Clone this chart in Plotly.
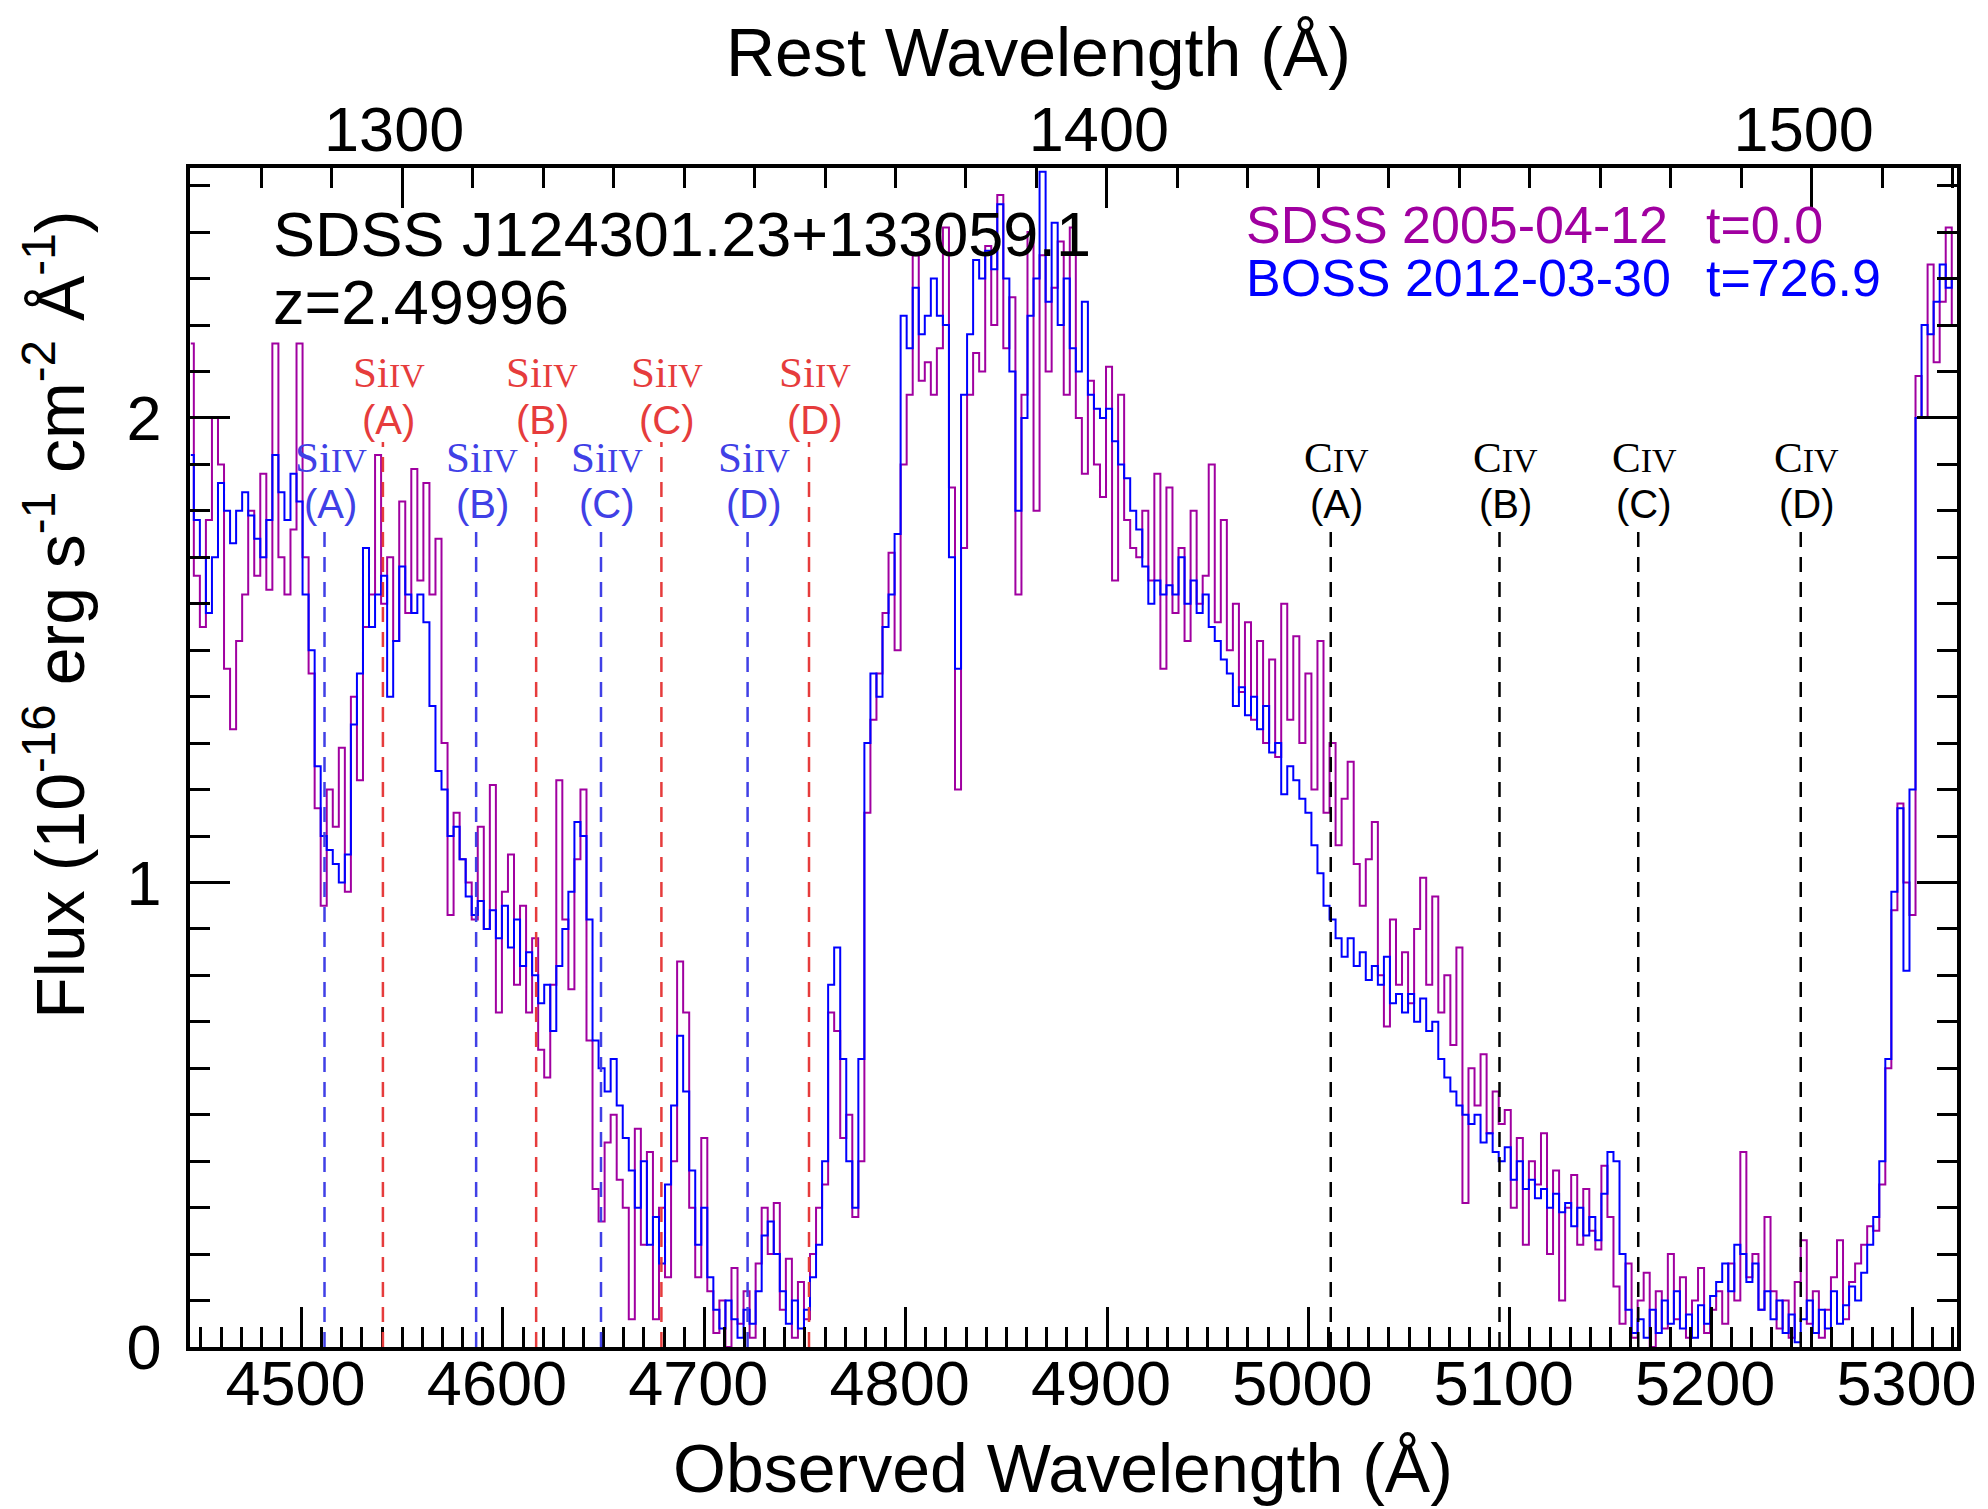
import numpy as np
import plotly.graph_objects as go

# ---------------- data ----------------
z_qso = 2.49996
wave_start = 4445.0   # first pixel centre (observed Angstrom)
wave_step = 3.0       # pixel width (observed Angstrom)

flux_sdss = [
    # 4445-4499
    2.16, 1.66, 1.55, 1.78, 2.00, 1.90, 1.46, 1.33, 1.52, 1.62,
    1.80, 1.66, 1.88, 1.63, 2.16, 1.70, 1.62, 1.76, 2.16,
    # 4502-4538
    1.70, 1.45, 1.16, 0.95, 1.20, 1.12, 1.29, 0.98, 1.40, 1.22, 1.55, 1.62, 1.92,
    # 4541-4568
    1.60, 1.70, 1.52, 1.82, 1.58, 1.89, 1.65, 1.86, 1.62, 1.74,
    # 4571-4598
    1.30, 0.93, 1.15, 1.05, 1.00, 0.92, 1.12, 0.90, 1.21, 0.72,
    # 4601-4640
    0.98, 1.06, 0.78, 0.95, 0.72, 0.88, 0.64, 0.58, 0.78, 1.22, 0.92, 0.77, 1.05, 1.20,
    # 4643-4700
    0.66, 0.34, 0.27, 0.44, 0.50, 0.36, 0.30, 0.06, 0.47, 0.22,
    0.42, 0.06, 0.30, 0.15, 0.40, 0.83, 0.72, 0.30, 0.15, 0.45,
    # 4703-4769
    0.12, 0.03, 0.10, 0.00, 0.17, 0.05, 0.12, 0.02, 0.18, 0.30,
    0.20, 0.31, 0.08, 0.19, 0.02, 0.14, 0.06, 0.20, 0.30, 0.35,
    0.72, 0.68, 0.45,
    # 4772-4799
    0.50, 0.28, 0.40, 1.15, 1.35, 1.45, 1.58, 1.71, 1.50, 1.90,
    # 4802-4931
    2.05, 2.35, 2.08, 2.12, 2.05, 2.15, 2.41, 1.85, 1.20, 1.72,
    2.05, 2.14, 2.10, 2.37, 2.20, 2.48, 2.15, 2.26, 1.62, 2.05,
    2.40, 1.80, 2.35, 2.10, 2.28, 2.38, 2.05, 2.41, 2.00, 1.88,
    2.08, 1.90, 1.83, 2.11, 1.65, 2.05, 1.78, 1.72, 1.70, 1.80,
    1.65, 1.88, 1.46, 1.85,
    # 4934-5321
    1.58, 1.72, 1.52, 1.80, 1.60, 1.66, 1.90, 1.56, 1.78, 1.50,
    1.60, 1.41, 1.56, 1.35, 1.52, 1.30, 1.48, 1.27, 1.60, 1.35,
    1.53, 1.30, 1.45, 1.20, 1.52, 1.15, 1.30, 1.08, 1.18, 1.26,
    1.04, 0.95, 1.05, 1.13, 0.80, 0.69, 0.92, 0.78, 0.85, 0.74,
    0.90, 1.01, 0.78, 0.97, 0.72, 0.80, 0.65, 0.86, 0.31, 0.60,
    0.52, 0.63, 0.46, 0.55, 0.48, 0.51, 0.30, 0.45, 0.22, 0.40,
    0.35, 0.46, 0.20, 0.38, 0.10, 0.30, 0.37, 0.22, 0.34, 0.25,
    0.21, 0.39, 0.28, 0.13, 0.05, 0.18, 0.02, 0.10, 0.16, 0.00,
    0.12, 0.04, 0.20, 0.06, 0.15, 0.02, 0.10, 0.17, 0.03, 0.08,
    0.12, 0.05, 0.18, 0.10, 0.42, 0.15, 0.20, 0.08, 0.28, 0.12,
    0.04, 0.10, 0.02, 0.14, 0.23, 0.05, 0.12, 0.02, 0.08, 0.15,
    0.23, 0.06, 0.14, 0.18, 0.22, 0.26, 0.25, 0.35, 0.60, 0.94,
    1.17, 1.00, 0.93, 2.09, 2.00, 2.33, 2.12, 2.25, 2.41, 2.20,
]

flux_boss = [
    # 4445-4499
    1.92, 1.78, 1.70, 1.58, 1.70, 1.86, 1.80, 1.73, 1.80, 1.84,
    1.79, 1.74, 1.70, 1.78, 1.92, 1.84, 1.78, 1.88, 1.82,
    # 4502-4538
    1.62, 1.50, 1.25, 1.10, 1.07, 1.04, 1.00, 1.06, 1.34, 1.45, 1.72, 1.55, 1.62,
    # 4541-4568
    1.66, 1.40, 1.52, 1.68, 1.62, 1.58, 1.62, 1.56, 1.38, 1.24,
    # 4571-4598
    1.20, 1.10, 1.12, 1.05, 0.97, 0.93, 0.96, 0.90, 0.94, 0.88,
    # 4601-4640
    0.95, 0.86, 0.92, 0.82, 0.85, 0.80, 0.74, 0.78, 0.68, 0.82, 0.90, 0.98, 1.13, 1.10,
    # 4643-4700
    0.92, 0.66, 0.60, 0.55, 0.62, 0.52, 0.45, 0.38, 0.30, 0.40,
    0.22, 0.28, 0.18, 0.35, 0.52, 0.67, 0.55, 0.38, 0.22, 0.30,
    # 4703-4769
    0.15, 0.08, 0.04, 0.10, 0.06, 0.02, 0.08, 0.05, 0.12, 0.24,
    0.27, 0.20, 0.12, 0.05, 0.10, 0.04, 0.08, 0.15, 0.22, 0.40,
    0.78, 0.86, 0.62,
    # 4772-4799
    0.40, 0.30, 0.62, 1.30, 1.45, 1.40, 1.55, 1.62, 1.75, 2.22,
    # 4802-4931
    2.15, 2.28, 2.18, 2.22, 2.30, 2.22, 2.20, 1.70, 1.46, 2.05,
    2.18, 2.34, 2.30, 2.36, 2.32, 2.46, 2.30, 2.10, 1.80, 2.00,
    2.22, 2.30, 2.53, 2.25, 2.42, 2.20, 2.30, 2.15, 2.10, 2.25,
    2.05, 2.02, 2.00, 2.02, 1.95, 1.90, 1.87, 1.80, 1.76, 1.68,
    1.60, 1.65, 1.62, 1.64,
    # 4934-5321
    1.62, 1.70, 1.60, 1.65, 1.58, 1.62, 1.55, 1.52, 1.48, 1.45,
    1.38, 1.42, 1.36, 1.40, 1.33, 1.38, 1.28, 1.30, 1.19, 1.25,
    1.22, 1.18, 1.15, 1.08, 1.02, 0.95, 0.92, 0.88, 0.84, 0.88,
    0.82, 0.85, 0.79, 0.82, 0.78, 0.84, 0.74, 0.76, 0.72, 0.76,
    0.70, 0.75, 0.68, 0.70, 0.62, 0.58, 0.55, 0.52, 0.50, 0.48,
    0.50, 0.44, 0.46, 0.42, 0.40, 0.43, 0.36, 0.40, 0.34, 0.36,
    0.32, 0.34, 0.30, 0.33, 0.29, 0.31, 0.26, 0.30, 0.24, 0.28,
    0.23, 0.33, 0.42, 0.40, 0.20, 0.08, 0.03, 0.06, 0.02, 0.08,
    0.03, 0.10, 0.05, 0.12, 0.04, 0.07, 0.02, 0.09, 0.05, 0.11,
    0.14, 0.18, 0.12, 0.22, 0.20, 0.14, 0.18, 0.08, 0.12, 0.06,
    0.10, 0.03, 0.07, 0.01, 0.06, 0.10, 0.03, 0.08, 0.04, 0.12,
    0.05, 0.09, 0.13, 0.10, 0.16, 0.22, 0.28, 0.40, 0.62, 0.98,
    1.16, 0.81, 1.20, 2.00, 2.20, 2.18, 2.25, 2.33, 2.28, 2.30,
]

# absorption trough positions (observed Angstrom)
siiv_1394_obs = [4511.4, 4586.7, 4648.7, 4721.5]
siiv_1403_obs = [4540.4, 4616.5, 4678.7, 4752.0]
civ_obs = [5011.1, 5094.9, 5163.8, 5244.5]
trough_names = ["(A)", "(B)", "(C)", "(D)"]

epoch_names = ["SDSS 2005-04-12", "BOSS 2012-03-30"]
epoch_times = ["t=0.0", "t=726.9"]
object_name = "SDSS J124301.23+133059.1"
redshift_label = "z=2.49996"

x_range_obs = [4444.6, 5322.1]
y_range = [0.0, 2.538]

# ---------------- styling ----------------
C_SDSS = "#A000A0"
C_BOSS = "#0000FF"
C_RED = "#E63C3C"
C_BLUE = "#4040E6"
SANS = "Liberation Sans, Arial, Helvetica, sans-serif"
SERIF = "Liberation Serif, Times New Roman, serif"

wave_sdss = wave_start + wave_step * np.arange(len(flux_sdss))
wave_boss = wave_start + wave_step * np.arange(len(flux_boss))

fig = go.Figure()
fig.add_trace(go.Scatter(x=wave_sdss, y=flux_sdss, mode="lines",
                         line=dict(color=C_SDSS, width=2, shape="hvh"),
                         name=epoch_names[0], hoverinfo="skip"))
fig.add_trace(go.Scatter(x=wave_boss, y=flux_boss, mode="lines",
                         line=dict(color=C_BOSS, width=2, shape="hvh"),
                         name=epoch_names[1], hoverinfo="skip"))
# invisible trace to activate the rest-frame axis
rest_range = [x_range_obs[0] / (1 + z_qso), x_range_obs[1] / (1 + z_qso)]
fig.add_trace(go.Scatter(x=rest_range, y=[-1, -1], mode="lines", xaxis="x2",
                         line=dict(width=0), showlegend=False, hoverinfo="skip"))

shapes = []
annotations = []


def add_marker(xpos, top, color, species, label, y_species, y_label):
    shapes.append(dict(type="line", xref="x", yref="y", x0=xpos, x1=xpos,
                       y0=0, y1=top, layer="above",
                       line=dict(color=color, width=2.5, dash="15px,10px")))
    annotations.append(dict(x=xpos + 3, y=y_species, xref="x", yref="y",
                            text=species + '<span style="font-size:34px">IV</span>',
                            showarrow=False, xanchor="center", yanchor="middle",
                            font=dict(family=SERIF, size=43, color=color)))
    annotations.append(dict(x=xpos + 3, y=y_label, xref="x", yref="y",
                            text=label, showarrow=False, xanchor="center",
                            yanchor="middle",
                            font=dict(family=SANS, size=40, color=color)))


for w, nm in zip(siiv_1403_obs, trough_names):
    add_marker(w, 1.948, C_RED, "Si", nm, 2.098, 1.995)
for w, nm in zip(siiv_1394_obs, trough_names):
    add_marker(w, 1.765, C_BLUE, "Si", nm, 1.915, 1.814)
for w, nm in zip(civ_obs, trough_names):
    add_marker(w, 1.765, "black", "C", nm, 1.915, 1.814)

# object name & redshift
annotations.append(dict(x=0.046, y=0.944, xref="paper", yref="paper", text=object_name,
                        showarrow=False, xanchor="left", yanchor="middle",
                        font=dict(family=SANS, size=63, color="black")))
annotations.append(dict(x=0.046, y=0.8866, xref="paper", yref="paper", text=redshift_label,
                        showarrow=False, xanchor="left", yanchor="middle",
                        font=dict(family=SANS, size=63, color="black")))
# epoch legend
for row, (nm, tt, col) in enumerate(zip(epoch_names, epoch_times, [C_SDSS, C_BOSS])):
    yy = 0.9517 - row * 0.0447
    annotations.append(dict(x=0.5965, y=yy, xref="paper", yref="paper", text=nm,
                            showarrow=False, xanchor="left", yanchor="middle",
                            font=dict(family=SANS, size=52, color=col)))
    annotations.append(dict(x=0.857, y=yy, xref="paper", yref="paper", text=tt,
                            showarrow=False, xanchor="left", yanchor="middle",
                            font=dict(family=SANS, size=52, color=col)))

# axis titles
annotations.append(dict(x=0.494, y=-0.1026, xref="paper", yref="paper",
                        text="Observed Wavelength (Å)", showarrow=False,
                        xanchor="center", yanchor="middle",
                        font=dict(family=SANS, size=68, color="black")))
annotations.append(dict(x=0.4803, y=1.0985, xref="paper", yref="paper",
                        text="Rest Wavelength (Å)", showarrow=False,
                        xanchor="center", yanchor="middle",
                        font=dict(family=SANS, size=68, color="black")))
annotations.append(dict(x=-0.0765, y=0.621, xref="paper", yref="paper",
                        text="Flux (10<sup>-16</sup> erg s<sup>-1</sup> cm<sup>-2</sup> Å<sup>-1</sup>)",
                        showarrow=False, textangle=-90,
                        xanchor="center", yanchor="middle",
                        font=dict(family=SANS, size=68, color="black")))

tick_common = dict(ticks="inside", ticklen=40, tickwidth=3, tickcolor="black",
                   showgrid=False, zeroline=False,
                   tickfont=dict(family=SANS, size=63, color="black"))
minor_common = dict(ticks="inside", ticklen=20, tickwidth=3, tickcolor="black",
                    showgrid=False)

fig.update_layout(
    width=1988, height=1509,
    margin=dict(l=190, r=20, t=168, b=162),
    paper_bgcolor="white", plot_bgcolor="white",
    showlegend=False,
    shapes=shapes, annotations=annotations,
    xaxis=dict(range=x_range_obs, tickmode="linear", tick0=4500, dtick=100,
               showline=True, linecolor="black", linewidth=3.5, mirror=True,
               minor=dict(tick0=4450, dtick=10, **minor_common),
               ticklabelstandoff=-21, ticklabelshift=-6, ticklabeloverflow="allow",
               **tick_common),
    xaxis2=dict(range=rest_range, overlaying="x", side="top", anchor="y",
                tickmode="linear", tick0=1300, dtick=100,
                showline=True, linecolor="black", linewidth=3.5,
                minor=dict(tick0=1300, dtick=10, **minor_common),
                ticklabelstandoff=-12, ticklabelshift=-8, ticklabeloverflow="allow",
                **tick_common),
    yaxis=dict(range=y_range, tickmode="linear", tick0=0, dtick=1,
               showline=True, linecolor="black", linewidth=3.5, mirror="ticks",
               minor=dict(tick0=0, dtick=0.1, **minor_common),
               ticklabelstandoff=12, **tick_common),
)

fig.write_html("out.html", config={"displayModeBar": False},
               post_script="document.body.style.margin='0px';")
